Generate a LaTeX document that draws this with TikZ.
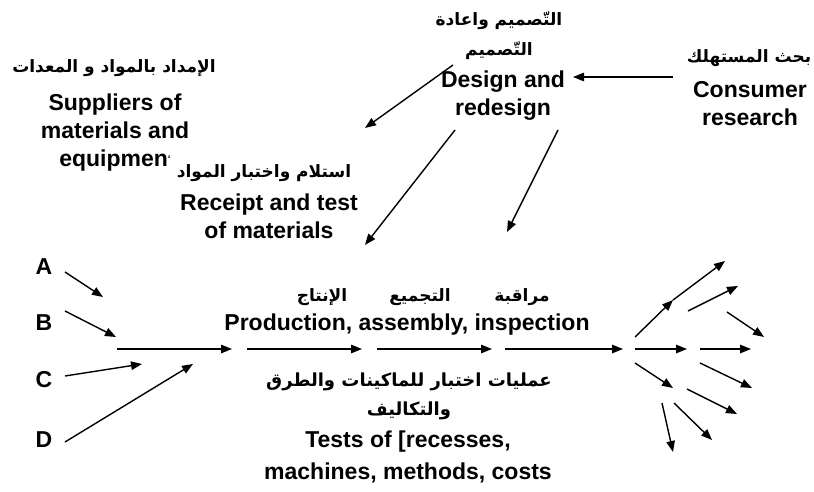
\documentclass[tikz,border=0pt]{standalone}
\usepackage{fontspec}
\setmainfont{Liberation Sans}
\newfontfamily\arabicfont[Script=Arabic]{DejaVu Sans}
\TeXXeTstate=1
\usetikzlibrary{arrows.meta}
\begin{document}
\begin{tikzpicture}[x=1pt,y=-1pt,
  en/.style={font=\bfseries\fontsize{23}{28}\selectfont, align=center, inner sep=0pt},
  ar/.style={font=\arabicfont\bfseries\fontsize{17}{30}\selectfont, align=center, inner sep=0pt},
  arr/.style={-{Triangle[length=11pt,width=8.5pt]}, line width=1.4pt}]
\useasboundingbox[fill=white] (0,0) rectangle (814,492);

% texts
\node[ar] (supAr) at (114,68) {\beginR الإمداد بالمواد و المعدات\endR};
\node[en] (sup) at (115,133) {Suppliers of\\materials and\\equipmen{\fontsize{10}{10}\selectfont\raisebox{4pt}{`}}};
\node[ar] (desAr) at (499,36) {\beginR التّصميم واعادة\endR\\\beginR التّصميم\endR};
\node[en] (des) at (503,96) {Design and\\redesign};
\node[ar] (conAr) at (749,58) {\beginR بحث المستهلك\endR};
\node[en] (con) at (750,104) {Consumer\\research};
\node[ar] (recAr) at (264,173) {\beginR استلام واختبار المواد\endR};
\node[en] (rec) at (269,216) {Receipt and test\\of materials};
\node[ar] (p1) at (322,297) {\beginR الإنتاج\endR};
\node[ar] (p2) at (420,297) {\beginR التجميع\endR};
\node[ar] (p3) at (522,297) {\beginR مراقبة\endR};
\node[en] (prod) at (407,325) {Production, assembly, inspection};
\node[ar,font=\arabicfont\bfseries\fontsize{18}{29}\selectfont] (tesAr) at (409,396) {\beginR عمليات اختبار للماكينات والطرق\endR\\\beginR والتكاليف\endR};
\node[en,font=\bfseries\fontsize{23}{32}\selectfont] (tes) at (408,457) {Tests of [recesses,\\machines, methods, costs};
\node[en] (A) at (44,267) {A};
\node[en] (B) at (44,323) {B};
\node[en] (C) at (44,380) {C};
\node[en] (D) at (44,440) {D};

% arrow end points
\coordinate (cs) at (673,77);  \coordinate (ce) at (573,77);
\coordinate (d1s) at (453,65); \coordinate (d1e) at (365,128);
\coordinate (d2s) at (455,130); \coordinate (d2e) at (365,245);
\coordinate (d3s) at (558,130); \coordinate (d3e) at (507,232);
\coordinate (as) at (65,272); \coordinate (ae) at (103,297);
\coordinate (bs) at (65,311); \coordinate (be) at (116,337);
\coordinate (cs2) at (65,376); \coordinate (ce2) at (142,364);
\coordinate (ds) at (65,442); \coordinate (de) at (193,364);
\coordinate (m1s) at (117,349); \coordinate (m1e) at (232,349);
\coordinate (m2s) at (247,349); \coordinate (m2e) at (362,349);
\coordinate (m3s) at (377,349); \coordinate (m3e) at (492,349);
\coordinate (m4s) at (505,349); \coordinate (m4e) at (623,349);
\coordinate (fa1) at (635,337); \coordinate (fa2) at (673,300); \coordinate (fa3) at (725,261);
\coordinate (fbs) at (688,311); \coordinate (fbe) at (738,286);
\coordinate (fcs) at (727,312); \coordinate (fce) at (764,337);
\coordinate (fds) at (635,349); \coordinate (fde) at (687,349);
\coordinate (fes) at (700,349); \coordinate (fee) at (751,349);
\coordinate (ffs) at (635,363); \coordinate (ffe) at (673,388);
\coordinate (fgs) at (700,363); \coordinate (fge) at (752,388);
\coordinate (fhs) at (687,389); \coordinate (fhe) at (737,414);
\coordinate (fis) at (674,403); \coordinate (fie) at (712,440);
\coordinate (fjs) at (662,403); \coordinate (fje) at (673,452);

% arrows
\draw[arr] (cs) -- (ce);
\draw[arr] (d1s) -- (d1e);
\draw[arr] (d2s) -- (d2e);
\draw[arr] (d3s) -- (d3e);
\draw[arr] (as) -- (ae);
\draw[arr] (bs) -- (be);
\draw[arr] (cs2) -- (ce2);
\draw[arr] (ds) -- (de);
\draw[arr] (m1s) -- (m1e);
\draw[arr] (m2s) -- (m2e);
\draw[arr] (m3s) -- (m3e);
\draw[arr] (m4s) -- (m4e);
\draw[arr] (fa1) -- (fa2);
\draw[arr] (fa2) -- (fa3);
\draw[arr] (fbs) -- (fbe);
\draw[arr] (fcs) -- (fce);
\draw[arr] (fds) -- (fde);
\draw[arr] (fes) -- (fee);
\draw[arr] (ffs) -- (ffe);
\draw[arr] (fgs) -- (fge);
\draw[arr] (fhs) -- (fhe);
\draw[arr] (fis) -- (fie);
\draw[arr] (fjs) -- (fje);
\end{tikzpicture}
\end{document}
